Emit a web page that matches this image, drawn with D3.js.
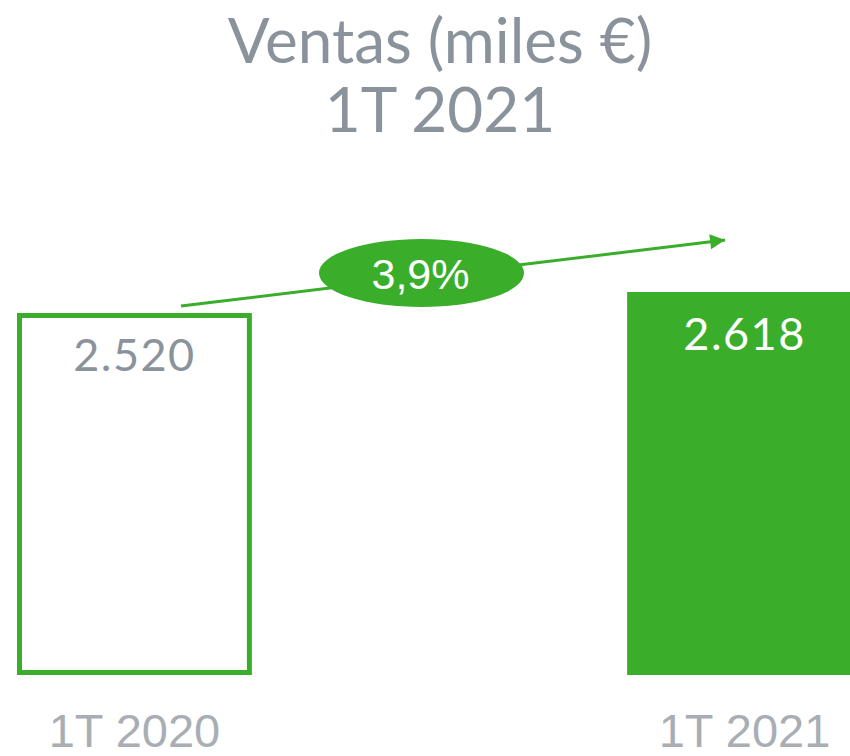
<!DOCTYPE html>
<html>
<head>
<meta charset="utf-8">
<script src="https://cdn.jsdelivr.net/npm/d3@7"></script>
<style>
  body { margin: 0; background: #fff; }
  svg { display: block; }
</style>
</head>
<body>
<div id="chart"></div>
<script>
"use strict";
// datos
var titleLines = ["Ventas (miles €)", "1T 2021"];
var categories = ["1T 2020", "1T 2021"];
var values = [2520, 2618];
var valueLabels = ["2.520", "2.618"];
var growthLabel = "3,9%";

var width = 850, height = 756;
var green = "#3aae2b";
var grey = "#8a939b";

var svg = d3.select("#chart").append("svg")
  .attr("width", width).attr("height", height);

var x = d3.scaleBand().domain(categories).range([17, 862]).paddingInner(0.615).paddingOuter(0);
// el eje no empieza en cero en el original
var y = d3.scaleLinear().domain([830, 2618]).range([675, 292]);

// titulo
svg.append("g").selectAll("text").data(titleLines).join("text")
  .attr("x", 440)
  .attr("y", function(d, i) { return 63 + i * 69; })
  .attr("text-anchor", "middle")
  .attr("font-family", "Lato, 'Open Sans', sans-serif")
  .attr("font-size", 62)
  .attr("fill", grey)
  .text(function(d) { return d; });

var sw = 5;
var bars = svg.append("g");
bars.selectAll("rect").data(values).join("rect")
  .attr("x", function(d, i) { return x(categories[i]) + (i === 0 ? sw / 2 : 0); })
  .attr("y", function(d, i) { return y(d) + (i === 0 ? sw / 2 : 0); })
  .attr("width", function(d, i) { return x.bandwidth() - (i === 0 ? sw : 0); })
  .attr("height", function(d, i) { return y.range()[0] - y(d) - (i === 0 ? sw : 0); })
  .attr("fill", function(d, i) { return i === 0 ? "none" : green; })
  .attr("stroke", function(d, i) { return i === 0 ? green : "none"; })
  .attr("stroke-width", sw);

// etiquetas de valor
svg.append("g").selectAll("text").data(values).join("text")
  .attr("x", function(d, i) { return x(categories[i]) + x.bandwidth() / 2; })
  .attr("y", function(d) { return y(d) + 58; })
  .attr("text-anchor", "middle")
  .attr("font-family", "Lato, 'Open Sans', sans-serif")
  .attr("font-size", 45)
  .attr("letter-spacing", 1.5)
  .attr("fill", function(d, i) { return i === 0 ? grey : "#fff"; })
  .text(function(d, i) { return valueLabels[i]; });

// categorias
svg.append("g").selectAll("text").data(categories).join("text")
  .attr("x", function(d) { return x(d) + x.bandwidth() / 2; })
  .attr("y", 747)
  .attr("text-anchor", "middle")
  .attr("font-family", "'Liberation Sans', Arial, sans-serif")
  .attr("font-size", 47)
  .attr("fill", "#a8aeb4")
  .text(function(d) { return d; });

// flecha de crecimiento
svg.append("defs").append("marker")
  .attr("id", "head")
  .attr("viewBox", "0 0 10 10")
  .attr("refX", 10).attr("refY", 5)
  .attr("markerWidth", 17).attr("markerHeight", 15)
  .attr("markerUnits", "userSpaceOnUse")
  .attr("orient", "auto")
  .append("path").attr("d", "M0,0 L10,5 L0,10 Z").attr("fill", green);

var x0 = x(categories[0]) + 164, y0 = y(values[0]) - 7;
var x1 = x(categories[1]) + 98, y1 = y(values[1]) - 52;
svg.append("line")
  .attr("x1", x0).attr("y1", y0).attr("x2", x1).attr("y2", y1)
  .attr("stroke", green).attr("stroke-width", 3)
  .attr("marker-end", "url(#head)");

var cx = 421.5, cy = 273;
svg.append("ellipse")
  .attr("cx", cx).attr("cy", cy).attr("rx", 102.5).attr("ry", 34)
  .attr("fill", green);
svg.append("text")
  .attr("x", cx - 1).attr("y", 289)
  .attr("text-anchor", "middle")
  .attr("font-family", "'Liberation Sans', Arial, sans-serif")
  .attr("font-size", 43)
  .attr("fill", "#fff")
  .text(growthLabel);
</script>
</body>
</html>
